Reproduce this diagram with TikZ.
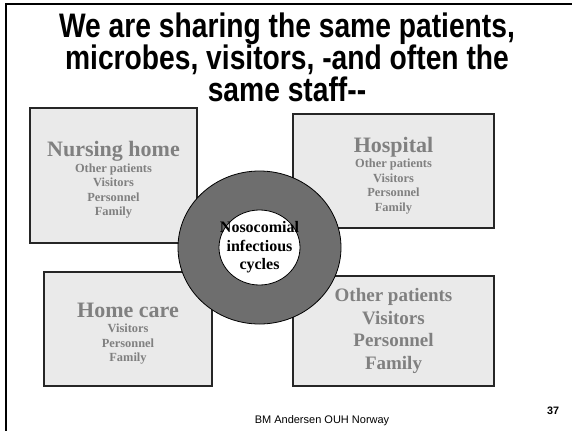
\documentclass[tikz,border=0pt]{standalone}
\usepackage{fontspec}
\setmainfont{Liberation Serif}
\setsansfont{Liberation Sans}
\newfontfamily\titlefont{Liberation Sans}[FakeStretch=0.83]
\usetikzlibrary{positioning,shapes.geometric}

\definecolor{boxgray}{HTML}{EAEAEA}
\definecolor{textgray}{HTML}{808080}
\definecolor{ringgray}{HTML}{6E6E6E}

% box headings get a taller first line so the text block sits a bit lower
\newcommand{\headfont}{\fontsize{22}{22}\selectfont\rule{0pt}{24pt}}
\newcommand{\itemfont}{\fontsize{12.4}{14.5}\selectfont}

\begin{document}
\begin{tikzpicture}[
                x=1pt, y=-1pt,
                place/.style={rectangle, draw=black!85, line width=1.1pt, fill=boxgray, text=textgray, font=\rmfamily\bfseries\itemfont, align=center, inner sep=0pt},
                ring/.style={ellipse, draw=black, line width=0.8pt, fill=ringgray, inner sep=0pt},
                hole/.style={ellipse, draw=black, line width=0.8pt, fill=white, inner sep=0pt}
            ]
                \useasboundingbox (0,0) rectangle (572,431);
                % slide frame, only top and left edges
                \draw[line width=1.5pt] (572,4) -- (6,4) -- (6,431);

                \node[font=\titlefont\bfseries\fontsize{34}{32}\selectfont, align=center] (title) at (287,57)
                    {We are sharing the same patients,\\ microbes, visitors, -and often the\\ same staff-{}-};

                \node[place, minimum width=167pt, minimum height=135pt] (nursing) at (113.5,175.5)
                    {{\headfont Nursing home}\\[1pt] Other patients\\ Visitors\\ Personnel\\ Family};
                \node[place, minimum width=201pt, minimum height=114pt] (hospital) at (393.5,171)
                    {{\headfont Hospital}\\[1pt] Other patients\\ Visitors\\ Personnel\\ Family};
                \node[place, minimum width=168pt, minimum height=114pt] (homecare) at (128,329)
                    {{\headfont Home care}\\[1pt] Visitors\\ Personnel\\ Family};
                \node[place, minimum width=201pt, minimum height=110pt, font=\rmfamily\bfseries\fontsize{19}{22.5}\selectfont] (others) at (393.5,331)
                    {Other patients\\ Visitors\\ Personnel\\ Family};

                % the ring in the middle, text laid over the white hole
                \node[ring, minimum width=163pt, minimum height=153pt] (cycle) at (259.5,247.5) {};
                \node[hole, minimum width=81pt, minimum height=75pt] (hub) at (cycle.center) {};
                \node[font=\rmfamily\bfseries\fontsize{16}{18.5}\selectfont, align=center] (cyclelabel) at (hub.center)
                    {Nosocomial\\ infectious\\ cycles};

                \node[font=\sffamily\fontsize{11}{11}\selectfont] (author) at (322,421) {BM Andersen OUH Norway};
                \node[font=\sffamily\bfseries\fontsize{10.8}{11}\selectfont] (page) at (553,411) {37};
            \end{tikzpicture}
\end{document}
